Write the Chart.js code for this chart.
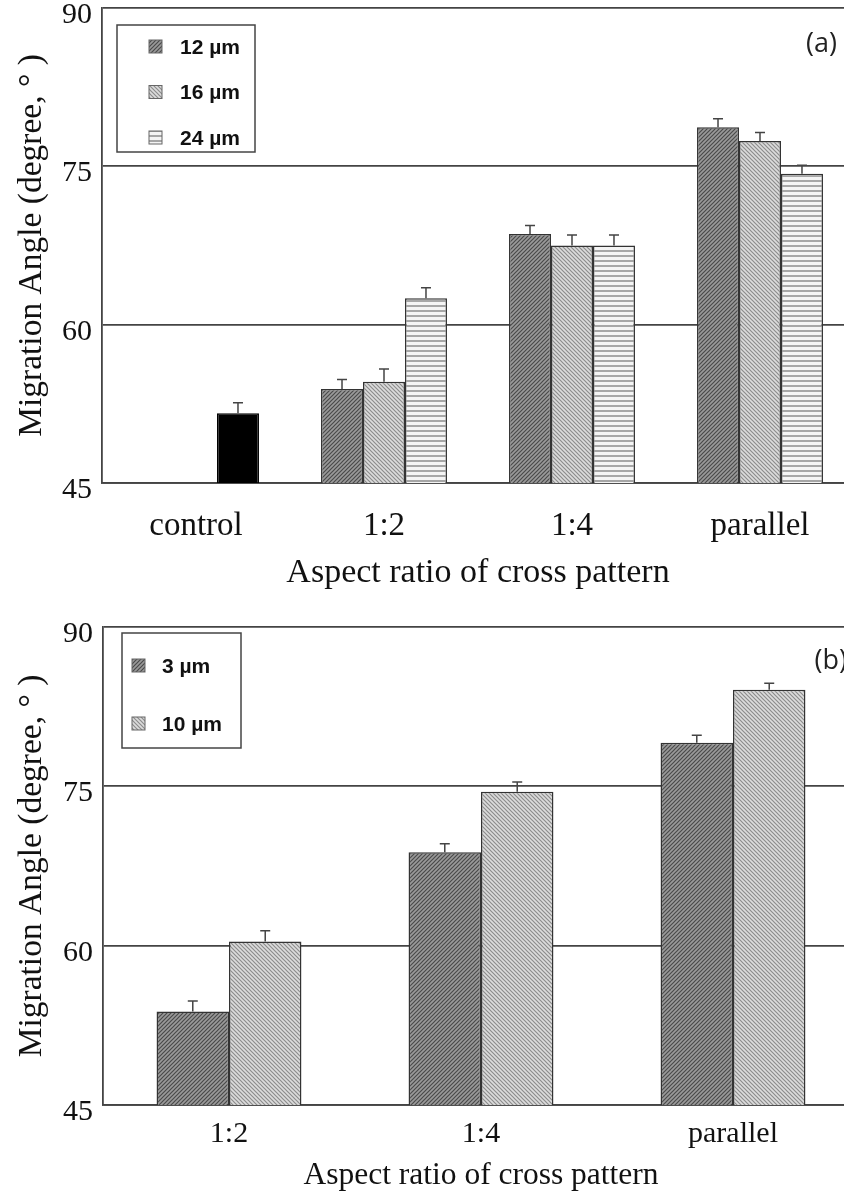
<!DOCTYPE html>
<html>
<head>
<meta charset="utf-8">
<script src="https://cdn.jsdelivr.net/npm/chart.js@4.4.1/dist/chart.umd.min.js"></script>
<style>
    html, body { margin: 0; padding: 0; background: #fff; overflow: hidden; width: 844px; height: 1200px; }
    .panel { position: absolute; left: 0; }
    #panelA { top: 0; }
    #panelB { top: 600px; }
</style>
</head>
<body>
<div class="panel" id="panelA"><canvas id="chartA" width="854" height="595"></canvas></div>
<div class="panel" id="panelB"><canvas id="chartB" width="859" height="600"></canvas></div>
<script>
// Panel (a) data
const categoriesA = ['control', '1:2', '1:4', 'parallel'];
const controlAngle = [51.6, null, null, null];
const controlErr = [1.0, null, null, null];
const angle12 = [null, 53.9, 68.6, 78.7];
const err12 = [null, 0.9, 0.8, 0.8];
const angle16 = [null, 54.6, 67.5, 77.4];
const err16 = [null, 1.2, 1.0, 0.8];
const angle24 = [null, 62.5, 67.5, 74.3];
const err24 = [null, 1.0, 1.0, 0.8];

// Panel (b) data
const categoriesB = ['1:2', '1:4', 'parallel'];
const angle3 = [53.8, 68.8, 79.1];
const err3 = [1.0, 0.8, 0.7];
const angle10 = [60.4, 74.5, 84.1];
const err10 = [1.0, 0.9, 0.6];

// Shared axis settings
const yTicks = { min: 45, max: 90, step: 15 };
const serif = "'Liberation Serif', 'Times New Roman', serif";

// Build a small tiled hatch pattern
const makePattern = (bg, fg, kind) => {
    const size = kind === 'h' ? 5 : 4;
    const c = document.createElement('canvas');
    c.width = size;
    c.height = size;
    const g = c.getContext('2d');
    g.fillStyle = bg;
    g.fillRect(0, 0, size, size);
    g.strokeStyle = fg;
    g.lineWidth = kind === 'h' ? 2 : 1.2;
    g.beginPath();
    if (kind === 'h') {
        g.moveTo(0, 1);
        g.lineTo(size, 1);
    } else if (kind === '/') {
        g.moveTo(0, size); g.lineTo(size, 0);
        g.moveTo(-1, 1); g.lineTo(1, -1);
        g.moveTo(size - 1, size + 1); g.lineTo(size + 1, size - 1);
    } else {
        g.moveTo(0, 0); g.lineTo(size, size);
        g.moveTo(-1, size - 1); g.lineTo(1, size + 1);
        g.moveTo(size - 1, -1); g.lineTo(size + 1, 1);
    }
    g.stroke();
    return g.createPattern(c, 'repeat');
};

const hatchDark = makePattern('#9a9a9a', '#4a4a4a', '/');
const hatchLight = makePattern('#dcdcdc', '#8c8c8c', '\\');
const hatchRows = makePattern('#f4f4f4', '#a6a6a6', 'h');

// Error bars drawn from each bar's top through the value scale
const errorBarPlugin = {
    id: 'errorBars',
    afterDatasetsDraw(chart) {
        const { ctx, scales: { y } } = chart;
        ctx.save();
        ctx.strokeStyle = '#444';
        ctx.lineWidth = 1.5;
        chart.data.datasets.forEach((ds, i) => {
            const meta = chart.getDatasetMeta(i);
            meta.data.forEach((bar, j) => {
                const v = ds.data[j];
                const e = ds.errors ? ds.errors[j] : null;
                if (v == null || e == null) return;
                const yTop = y.getPixelForValue(v + e);
                ctx.beginPath();
                ctx.moveTo(bar.x, bar.y);
                ctx.lineTo(bar.x, yTop);
                ctx.moveTo(bar.x - 5, yTop);
                ctx.lineTo(bar.x + 5, yTop);
                ctx.stroke();
            });
        });
        ctx.restore();
    }
};

// Boxed legend inside the plot plus the panel letter
const panelLegendPlugin = {
    id: 'panelLegend',
    afterDraw(chart, args, opts) {
        const { ctx, chartArea } = chart;
        const items = chart.data.datasets.filter(ds => !ds.hideInLegend);
        const left = chartArea.left + opts.boxX;
        const top = chartArea.top + opts.boxY;
        ctx.save();
        ctx.strokeStyle = '#444';
        ctx.lineWidth = 1.5;
        ctx.strokeRect(left, top, opts.boxW, opts.boxH);
        ctx.font = "bold " + opts.fontSize + "px 'Liberation Sans', Arial, sans-serif";
        ctx.textBaseline = 'middle';
        ctx.fillStyle = '#111';
        items.forEach((ds, i) => {
            const cy = top + opts.firstY + i * opts.gap;
            ctx.fillStyle = ds.backgroundColor;
            ctx.fillRect(left + opts.swatchX, cy - 7, 13, 13);
            ctx.strokeStyle = '#666';
            ctx.lineWidth = 1;
            ctx.strokeRect(left + opts.swatchX, cy - 7, 13, 13);
            ctx.fillStyle = '#111';
            ctx.fillText(ds.label, left + opts.textX, cy + 1);
        });
        ctx.font = "27px 'Open Sans', sans-serif";
        ctx.textAlign = 'right';
        ctx.fillStyle = '#222';
        ctx.fillText(opts.letter, chartArea.right - opts.letterDX, chartArea.top + opts.letterDY);
        ctx.restore();
    }
};

// Common options for both panels
const buildOptions = (cfg) => ({
    responsive: false,
    animation: false,
    layout: { padding: { top: cfg.padTop, left: 0, right: 0, bottom: 0 } },
    datasets: {
        bar: {
            categoryPercentage: cfg.catPct,
            barPercentage: 1,
            borderColor: '#333',
            borderWidth: 1.5
        }
    },
    plugins: {
        legend: { display: false },
        tooltip: { enabled: false },
        panelLegend: cfg.legend
    },
    scales: {
        x: {
            grid: { display: false, drawTicks: false },
            border: { display: true, color: '#444', width: 1.8 },
            ticks: {
                color: '#111',
                padding: cfg.tickPad,
                maxRotation: 0,
                font: { family: serif, size: cfg.xTickSize }
            },
            title: {
                display: true,
                text: 'Aspect ratio of cross pattern',
                color: '#111',
                padding: { top: 0, bottom: cfg.titlePad },
                font: { family: serif, size: cfg.xTitleSize }
            },
            afterFit: (scale) => { scale.height = cfg.xHeight; }
        },
        y: {
            min: yTicks.min,
            max: yTicks.max,
            grid: { color: '#444', lineWidth: 1.8, drawTicks: false },
            border: { display: true, color: '#444', width: 1.8 },
            ticks: {
                stepSize: yTicks.step,
                color: '#111',
                padding: 10,
                labelOffset: 7,
                font: { family: serif, size: 30 }
            },
            title: {
                display: true,
                text: 'Migration Angle (degree, \u00b0 )',
                color: '#111',
                padding: { top: 12, bottom: 0 },
                font: { family: serif, size: 33.5 }
            },
            afterFit: (scale) => {
                scale.width = cfg.yWidth;
                scale.paddingTop = 0;
                scale.paddingBottom = 0;
            }
        }
    }
});

// Panel (a)
new Chart(document.querySelector('#chartA'), {
    type: 'bar',
    data: {
        labels: categoriesA,
        datasets: [
            { label: '12 \u00b5m', data: angle12, errors: err12, backgroundColor: hatchDark, stack: 's12' },
            { label: '16 \u00b5m', data: angle16, errors: err16, backgroundColor: hatchLight, stack: 's16' },
            { label: '24 \u00b5m', data: angle24, errors: err24, backgroundColor: hatchRows, stack: 's24' },
            { label: 'control', data: controlAngle, errors: controlErr, backgroundColor: '#000', borderColor: '#000', stack: 's24', hideInLegend: true }
        ]
    },
    options: buildOptions({
        padTop: 8, catPct: 0.67, tickPad: 24, titlePad: 2, xHeight: 112, yWidth: 102,
        xTickSize: 33, xTitleSize: 34,
        legend: { boxX: 15, boxY: 17, boxW: 138, boxH: 127, swatchX: 32, textX: 63, firstY: 22, gap: 45.5, fontSize: 21, letter: '(a)', letterDX: 17, letterDY: 36 }
    }),
    plugins: [errorBarPlugin, panelLegendPlugin]
});

// Panel (b)
new Chart(document.querySelector('#chartB'), {
    type: 'bar',
    data: {
        labels: categoriesB,
        datasets: [
            { label: '3 \u00b5m', data: angle3, errors: err3, backgroundColor: hatchDark },
            { label: '10 \u00b5m', data: angle10, errors: err10, backgroundColor: hatchLight }
        ]
    },
    options: buildOptions({
        padTop: 27, catPct: 0.575, tickPad: 11, titlePad: 5, xHeight: 95, yWidth: 103,
        xTickSize: 30, xTitleSize: 31.5,
        legend: { boxX: 19, boxY: 6, boxW: 119, boxH: 115, swatchX: 10, textX: 40, firstY: 33, gap: 58, fontSize: 21, letter: '(b)', letterDX: 12, letterDY: 34 }
    }),
    plugins: [errorBarPlugin, panelLegendPlugin]
});
</script>
</body>
</html>
